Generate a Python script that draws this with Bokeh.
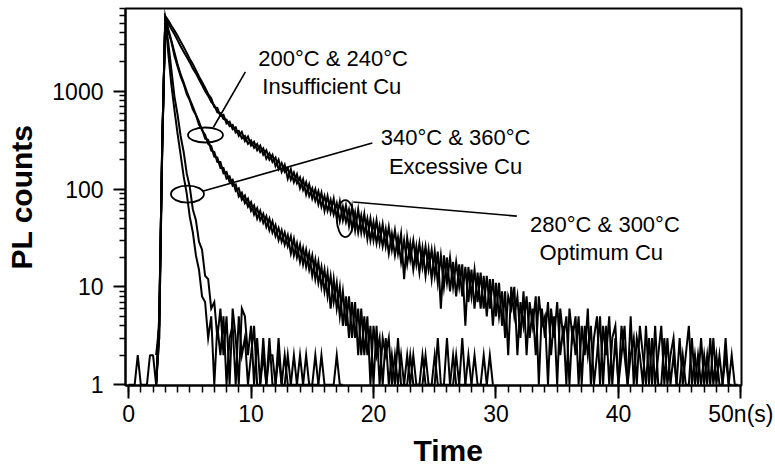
import numpy as np
from bokeh.plotting import figure
from bokeh.models import Range1d, FixedTicker, PrintfTickFormatter, Title
from bokeh.core.properties import value
from bokeh.embed import file_html
from bokeh.resources import INLINE

# ---------------- data ----------------
# channel grid of the decay traces (ns)
t_start = 2.25
dt = 0.25

# background before the excitation pulse, t = 0 .. 2.25 ns
pre_time = [0.0, 0.25, 0.5, 0.75, 1.0, 1.25, 1.5, 1.75, 2.0, 2.25]
pre_counts = [1, 1, 1, 2, 1, 1, 1, 2, 2, 1]

# 340 C & 360 C  (excessive Cu) - fastest decay
exc_340 = [1, 5, 280, 5600, 2400, 1150, 640, 370, 225, 135, 90, 52, 36, 21, 15, 8, 7, 3, 5, 1,
           4, 2, 5, 1, 3, 4, 1, 5, 2, 3, 1, 2, 4, 1, 1, 2, 1, 3, 1, 1,
           2, 1, 1, 2, 1, 1, 1, 2, 1, 1, 1, 1, 2, 1]
exc_360 = [2, 4, 320, 5500, 3100, 1650, 880, 580, 350, 240, 145, 105, 62, 48, 29, 24, 13, 12, 6, 7,
           3, 6, 2, 5, 1, 6, 3, 1, 6, 5, 2, 4, 1, 3, 1, 3, 1, 2, 2, 1,
           3, 1, 2, 1, 1, 2, 1, 1, 1, 2, 1, 1, 1, 1, 2, 1, 1, 1, 1, 2, 1, 1]

# 200 C & 240 C  (insufficient Cu) - intermediate decay
ins_200 = [1, 4, 300, 5800, 4100, 3200, 2300, 1800, 1420, 1190, 940, 810, 650, 575, 455, 410,
           330, 318, 248, 240, 190, 190, 145, 150, 118, 125, 96, 102, 78, 86, 66, 74,
           55, 64, 48, 56, 41, 50, 36, 43, 30, 38, 27, 34, 22, 31, 20, 27,
           17, 24, 15, 21, 12, 18, 10, 15, 8, 13, 7, 11, 5, 9, 4, 8,
           3, 7, 2, 6, 2, 5, 1, 4, 2, 3, 1, 3, 1, 2, 1, 3,
           1, 1, 2, 1, 2, 1, 1, 2, 1, 1, 1, 2, 1, 1, 1, 3,
           1, 1, 2, 1, 1, 1, 2, 1, 1, 1, 1, 2, 1]
ins_240 = [1, 3, 260, 5500, 4300, 3300, 2500, 1900, 1500, 1230, 1000, 830, 700, 580, 490, 400,
           360, 290, 275, 215, 210, 165, 165, 128, 135, 108, 112, 84, 92, 72, 80, 60,
           68, 50, 60, 45, 53, 38, 47, 33, 40, 29, 36, 26, 33, 21, 28, 18,
           25, 16, 22, 13, 19, 11, 16, 9, 14, 6, 12, 6, 10, 4, 8, 3,
           7, 3, 6, 2, 5, 2, 4, 1, 4, 1, 3, 2, 3, 1, 2, 1,
           2, 1, 1, 2, 1, 1, 1, 1, 2, 1, 1, 1, 3, 1, 1, 1,
           1, 2, 1, 1, 3, 1, 1, 1, 2, 1, 1, 1, 1, 2, 1]

# 280 C & 300 C  (optimum Cu) - slowest decay
opt_280 = [1, 4, 310, 5700, 4900, 4350, 3850, 3350, 2900, 2550, 2250, 1980, 1720, 1530, 1330, 1160,
           1010, 900, 780, 720, 610, 600, 520, 515, 440, 455, 380, 395, 330, 350, 290, 315,
           265, 290, 240, 262, 205, 232, 190, 210, 160, 185, 150, 165, 125, 148, 115, 132,
           98, 118, 85, 102, 76, 95, 66, 85, 60, 78, 55, 72, 47, 66, 46, 62,
           40, 58, 36, 54, 35, 50, 30, 46, 28, 42, 26, 39, 22, 35, 21, 32,
           18, 30, 17, 28, 15, 26, 14, 25, 13, 24, 12, 23, 11, 21, 10, 20,
           9, 18, 8, 17, 8, 16, 7, 15, 6, 14, 6, 13, 5, 12, 4, 11,
           5, 9, 3, 8, 6, 10, 2, 7, 4, 8, 3, 6, 2, 8, 4, 5,
           1, 6, 3, 7, 2, 4, 1, 6, 3, 5, 1, 4, 2, 6, 1, 3,
           5, 1, 4, 2, 5, 1, 3, 1, 4, 2, 1, 5, 1, 3, 2, 1,
           4, 1, 3, 1, 2, 4, 1, 3, 1, 2, 1, 3, 1, 2, 4, 1,
           2, 1, 3, 1, 2, 1, 3, 1, 2, 1, 3, 1, 2, 1, 1]
opt_300 = [1, 3, 250, 5900, 5300, 4700, 4200, 3700, 3250, 2850, 2480, 2150, 1900, 1650, 1420, 1250,
           1090, 940, 850, 690, 680, 560, 575, 470, 490, 410, 430, 350, 385, 310, 345, 280,
           305, 250, 280, 225, 250, 200, 225, 172, 200, 150, 178, 128, 160, 118, 142, 102,
           126, 88, 112, 80, 100, 70, 92, 60, 85, 58, 80, 50, 75, 48, 68, 42,
           66, 38, 62, 36, 56, 31, 50, 30, 48, 28, 44, 26, 41, 24, 38, 22,
           35, 12, 32, 19, 30, 17, 28, 16, 26, 15, 24, 13, 23, 6, 21, 11,
           20, 10, 18, 10, 17, 4, 16, 8, 15, 7, 14, 6, 13, 6, 12, 5,
           11, 4, 9, 2, 10, 5, 8, 3, 9, 2, 7, 4, 8, 1, 6, 3,
           7, 2, 5, 1, 6, 3, 5, 1, 4, 2, 5, 1, 4, 2, 4, 1,
           2, 5, 1, 4, 1, 3, 4, 1, 2, 4, 1, 2, 3, 1, 4, 2,
           1, 3, 1, 4, 1, 1, 3, 1, 2, 3, 1, 1, 2, 1, 1, 3,
           1, 2, 1, 2, 1, 3, 1, 2, 1, 1, 2, 1, 1]

# axis ticks
x_major = [0, 10, 20, 30, 40, 50]
x_labels = {50: "50n(s)"}
y_major = [1, 10, 100, 1000]

# annotations: (time ns, counts)
ann_texts = [
    ("200°C & 240°C", 16.7, 2170), ("Insufficient Cu", 16.6, 1130),
    ("340°C & 360°C", 26.7, 337), ("Excessive Cu", 26.7, 170),
    ("280°C & 300°C", 38.9, 43.4), ("Optimum Cu", 38.6, 22.4),
]
ellipses = [  # x, y, screen width, screen height
    (6.28, 358, 35, 15),
    (4.81, 89, 33, 17),
    (17.7, 50, 17, 37),
]
leaders = [  # x0, y0, x1, y1
    (6.93, 430, 9.54, 1585),
    (6.04, 95, 19.9, 296),
    (18.35, 74, 31.7, 53),
]

# ---------------- figure ----------------
FONT = "Liberation Sans"

p = figure(width=775, height=473, y_axis_type="log",
           x_range=Range1d(-0.25, 50.05), y_range=Range1d(0.98, 7050),
           output_backend="svg", toolbar_location=None,
           min_border_left=125, min_border_right=34, min_border_top=8, min_border_bottom=88)
p.grid.visible = False
p.outline_line_color = "black"
p.outline_line_width = 2
p.background_fill_color = "white"
p.border_fill_color = "white"

xa = p.xaxis[0]
xa.ticker = FixedTicker(ticks=x_major, minor_ticks=list(range(0, 51)))
xa.major_label_overrides = x_labels
ya = p.yaxis[0]
ya.ticker = FixedTicker(ticks=y_major,
                        minor_ticks=[m * d for d in (1, 10, 100, 1000) for m in range(2, 10)])
ya.formatter = PrintfTickFormatter(format="%d")
ya.axis_label = "PL counts"

for ax, tout, mout in ((xa, 13, 7), (ya, 12, 6)):
    ax.axis_line_color = "black"
    ax.axis_line_width = 2
    ax.major_tick_line_color = "black"
    ax.minor_tick_line_color = "black"
    ax.major_tick_line_width = 2
    ax.minor_tick_line_width = 1.5
    ax.major_tick_in = 0
    ax.major_tick_out = tout
    ax.minor_tick_in = 0
    ax.minor_tick_out = mout
    ax.major_label_text_font = FONT
    ax.major_label_text_font_size = "23px"
    ax.major_label_text_color = "black"
    ax.axis_label_text_font = FONT
    ax.axis_label_text_font_style = "bold"
    ax.axis_label_text_font_size = "30px"
    ax.axis_label_text_color = "black"
xa.major_label_standoff = 2
ya.major_label_standoff = 10
ya.axis_label_standoff = 11

# x-axis title, sitting a little right of the frame centre as in the original
p.add_layout(Title(text="Time", align="left", offset=288, standoff=4,
                   text_font=FONT, text_font_style="bold", text_font_size="30px",
                   text_color="black"), "below")

# traces
p.line(pre_time, pre_counts, line_color="black", line_width=2)
for counts in (exc_340, exc_360, ins_200, ins_240, opt_280, opt_300):
    tt = [t_start + dt * i for i in range(len(counts))]
    p.line(tt, counts, line_color="black", line_width=2, line_join="miter")

# annotations
for (x, y, w, h) in ellipses:
    p.ellipse(x=x, y=y, width=w, height=h, width_units="screen", height_units="screen",
              fill_color=None, line_color="black", line_width=1.8)
for (x0, y0, x1, y1) in leaders:
    p.line([x0, x1], [y0, y1], line_color="black", line_width=1.6)
p.text(x=[a[1] for a in ann_texts], y=[a[2] for a in ann_texts], text=[a[0] for a in ann_texts],
       text_font=value(FONT), text_font_size="22px", text_align="center",
       text_baseline="alphabetic", text_color="black")

open("out.html", "w").write(file_html(p, INLINE))
